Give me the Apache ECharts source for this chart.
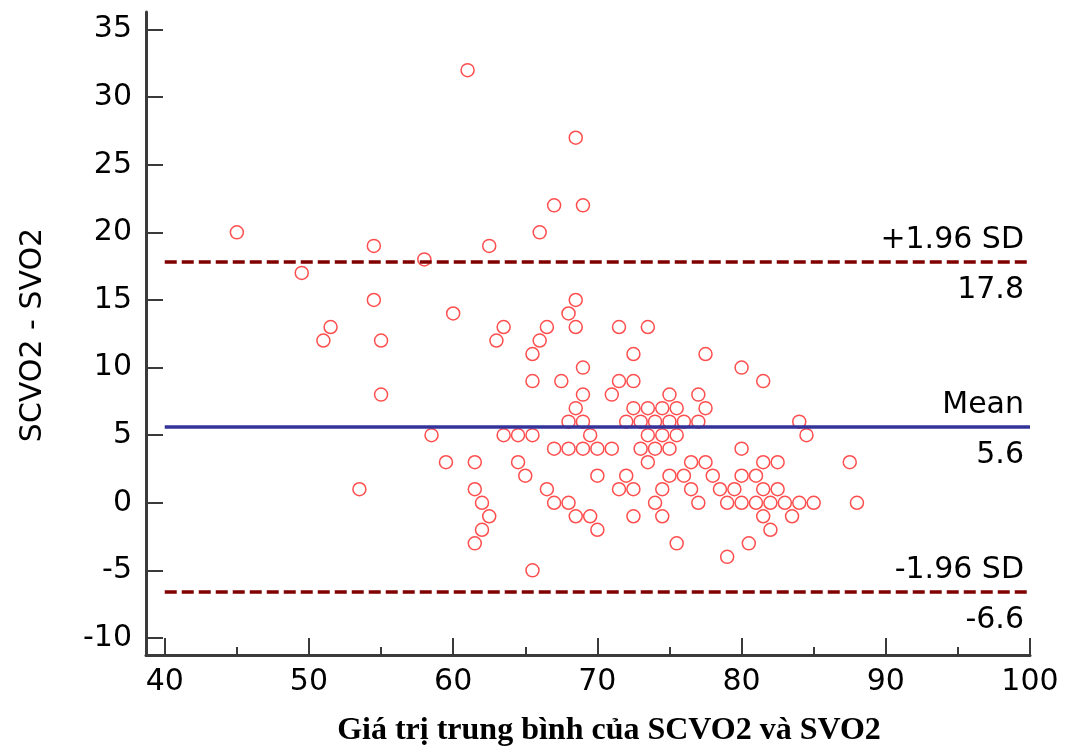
<!DOCTYPE html>
<html>
<head>
<meta charset="utf-8">
<script src="https://cdn.jsdelivr.net/npm/echarts@6/dist/echarts.min.js"></script>
<style>
html,body{margin:0;padding:0;background:#fff;}
#chart{width:1066px;height:753px;}
</style>
</head>
<body>
<div id="chart"></div>
<script>
// Mean of the two measurements (x) and their difference (y)
var MEAN_VALUES = [
  61,
  68.5,
  67, 69,
  45, 66,
  54.5, 62.5,
  58,
  49.5,
  54.5, 68.5,
  60, 68,
  51.5, 63.5, 66.5, 68.5, 71.5, 73.5,
  51, 55, 63, 66,
  65.5, 72.5, 77.5,
  69, 80,
  65.5, 67.5, 71.5, 72.5, 81.5,
  55, 69, 71, 75, 77,
  68.5, 72.5, 73.5, 74.5, 75.5, 77.5,
  68, 69, 72, 73, 74, 75, 76, 77, 84,
  58.5, 63.5, 64.5, 65.5, 69.5, 73.5, 74.5, 75.5, 84.5,
  67, 68, 69, 70, 71, 73, 74, 75, 80,
  59.5, 61.5, 64.5, 73.5, 76.5, 77.5, 81.5, 82.5, 87.5,
  65, 70, 72, 75, 76, 78, 80, 81,
  53.5, 61.5, 66.5, 71.5, 72.5, 74.5, 76.5, 78.5, 79.5, 81.5, 82.5,
  62, 67, 68, 74, 77, 79, 80, 81, 82, 83, 84, 85, 88,
  62.5, 68.5, 69.5, 72.5, 74.5, 81.5, 83.5,
  62, 70, 82,
  61.5, 75.5, 80.5,
  79,
  65.5
];
var DIFF_VALUES = [
  32,
  27,
  22, 22,
  20, 20,
  19, 19,
  18,
  17,
  15, 15,
  14, 14,
  13, 13, 13, 13, 13, 13,
  12, 12, 12, 12,
  11, 11, 11,
  10, 10,
  9, 9, 9, 9, 9,
  8, 8, 8, 8, 8,
  7, 7, 7, 7, 7, 7,
  6, 6, 6, 6, 6, 6, 6, 6, 6,
  5, 5, 5, 5, 5, 5, 5, 5, 5,
  4, 4, 4, 4, 4, 4, 4, 4, 4,
  3, 3, 3, 3, 3, 3, 3, 3, 3,
  2, 2, 2, 2, 2, 2, 2, 2,
  1, 1, 1, 1, 1, 1, 1, 1, 1, 1, 1,
  0, 0, 0, 0, 0, 0, 0, 0, 0, 0, 0, 0, 0,
  -1, -1, -1, -1, -1, -1, -1,
  -2, -2, -2,
  -3, -3, -3,
  -4,
  -5
];
var MEAN_DIFF = 5.6;
var UPPER_LOA = 17.8;
var LOWER_LOA = -6.6;
var LINE_X_RANGE = [40, 100];
var X_MAJOR_TICKS = [40, 50, 60, 70, 80, 90, 100];
var X_MINOR_TICKS = [45, 55, 65, 75, 85, 95];
var Y_TICKS = [-10, -5, 0, 5, 10, 15, 20, 25, 30, 35];
var X_RANGE = [38.7, 100];
var Y_RANGE = [-11.26, 36.3];
var X_TITLE = 'Giá trị trung bình của SCVO2 và SVO2';
var Y_TITLE = 'SCVO2 - SVO2';

var points = MEAN_VALUES.map(function (x, i) { return [x, DIFF_VALUES[i]]; });

var SANS = 'DejaVu Sans';
var AXIS_COLOR = '#3a3a3a';
var TEXT_COLOR = '#000';

function refLine(value, color, type) {
  return {
    type: 'line',
    xAxisIndex: 0, yAxisIndex: 0,
    showSymbol: false,
    symbol: 'none',
    silent: true,
    z: 5,
    lineStyle: { color: color, width: 3.5, type: type },
    data: [[LINE_X_RANGE[0], value], [LINE_X_RANGE[1], value]]
  };
}
function refLabel(value, topText, botText) {
  return {
    type: 'scatter',
    xAxisIndex: 0, yAxisIndex: 0,
    silent: true,
    z: 6,
    symbol: 'circle',
    symbolSize: 0.01,
    itemStyle: { color: 'rgba(0,0,0,0)' },
    emphasis: { disabled: true },
    data: [[LINE_X_RANGE[1], value]],
    label: {
      show: true,
      position: 'left',
      distance: 6,
      align: 'right',
      verticalAlign: 'middle',
      offset: [0, 3],
      color: TEXT_COLOR,
      opacity: 1,
      fontFamily: SANS,
      fontSize: 30,
      formatter: '{a|' + topText + '}\n{a|' + botText + '}',
      rich: {
        a: { fontFamily: SANS, fontSize: 30, color: TEXT_COLOR, lineHeight: 50, align: 'right' }
      }
    }
  };
}

var chart = echarts.init(document.getElementById('chart'), null, { renderer: 'canvas' });
chart.setOption({
  animation: false,
  backgroundColor: '#ffffff',
  grid: { left: 146, right: 36, top: 12, bottom: 98, containLabel: false },
  xAxis: [
    {
      type: 'value',
      min: X_RANGE[0], max: X_RANGE[1],
      position: 'bottom',
      axisLine: { show: true, onZero: false, lineStyle: { color: AXIS_COLOR, width: 3 } },
      axisTick: { show: true, inside: true, length: 17, customValues: X_MAJOR_TICKS, lineStyle: { color: AXIS_COLOR, width: 2 } },
      axisLabel: { show: true, customValues: X_MAJOR_TICKS, fontFamily: SANS, fontSize: 30, color: TEXT_COLOR, margin: 12 },
      splitLine: { show: false }
    },
    {
      type: 'value',
      min: X_RANGE[0], max: X_RANGE[1],
      position: 'bottom',
      axisLine: { show: false, onZero: false },
      axisTick: { show: true, inside: true, length: 8, customValues: X_MINOR_TICKS, lineStyle: { color: AXIS_COLOR, width: 2 } },
      axisLabel: { show: false },
      splitLine: { show: false }
    }
  ],
  yAxis: {
    type: 'value',
    min: Y_RANGE[0], max: Y_RANGE[1],
    axisLine: { show: true, onZero: false, lineStyle: { color: AXIS_COLOR, width: 3 } },
    axisTick: { show: true, inside: true, length: 17, customValues: Y_TICKS, lineStyle: { color: AXIS_COLOR, width: 2 } },
    axisLabel: { show: true, customValues: Y_TICKS, fontFamily: SANS, fontSize: 30, color: TEXT_COLOR, margin: 14, padding: [0, 0, 5, 0] },
    splitLine: { show: false }
  },
  graphic: [
    {
      type: 'text',
      x: 33, y: 335,
      rotation: Math.PI / 2,
      style: { text: Y_TITLE, fontFamily: SANS, fontSize: 30, fill: TEXT_COLOR, align: 'center', verticalAlign: 'middle' }
    },
    {
      type: 'text',
      x: 609, y: 731,
      style: { text: X_TITLE, fontFamily: 'Liberation Serif', fontWeight: 'bold', fontSize: 32, fill: '#000', align: 'center', verticalAlign: 'middle' }
    }
  ],
  series: [
    {
      type: 'scatter',
      data: points,
      symbol: 'circle',
      symbolSize: 13,
      z: 3,
      itemStyle: { color: 'rgba(255,255,255,0)', borderColor: '#ff2222', borderWidth: 1.5 }
    },
    refLine(UPPER_LOA, '#800000', [12, 5]),
    refLine(MEAN_DIFF, '#333399', 'solid'),
    refLine(LOWER_LOA, '#800000', [12, 5]),
    refLabel(UPPER_LOA, '+1.96 SD', String(UPPER_LOA)),
    refLabel(MEAN_DIFF, 'Mean', String(MEAN_DIFF)),
    refLabel(LOWER_LOA, '-1.96 SD', String(LOWER_LOA))
  ]
});
</script>
</body>
</html>
